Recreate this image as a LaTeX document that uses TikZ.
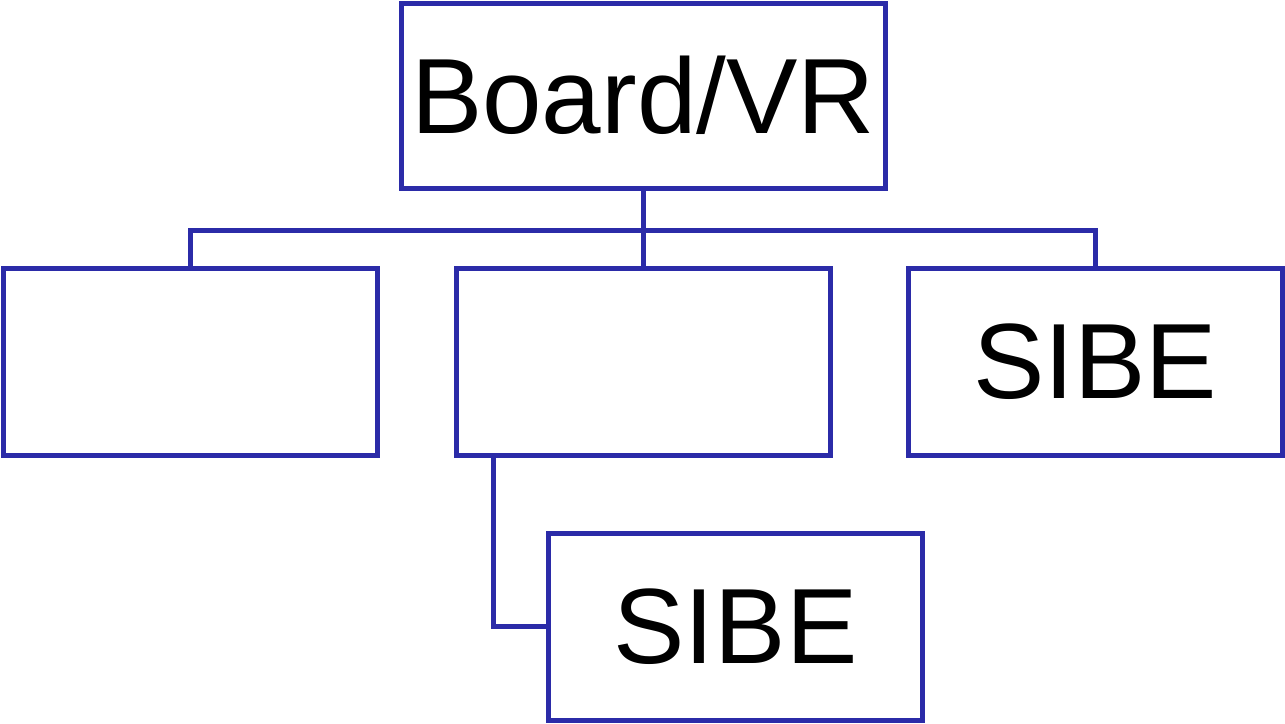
\documentclass[tikz,border=0pt]{standalone}
\usepackage{fontspec}
\setmainfont{Liberation Sans}
\usetikzlibrary{positioning}
\definecolor{boxblue}{RGB}{43,43,168}
\tikzset{
    unitbox/.style={draw=boxblue, line width=2.5pt, minimum width=187pt, minimum height=93.5pt, inner sep=0pt, font=\fontsize{53.5}{60}\selectfont},
    link/.style={draw=boxblue, line width=2.5pt}
}

\begin{document}
\begin{tikzpicture}[x=0.5pt, y=-0.5pt]
    %Frame
    \useasboundingbox (0, 0) rectangle (1285, 723);
    %Boxes
    \node[unitbox, minimum width=242pt, minimum height=92.5pt] (board) at (643, 95.5) {Board/VR};
    \node[unitbox] (left) at (190, 361.5) {};
    \node[unitbox] (middle) at (643, 361.5) {};
    \node[unitbox] (right) at (1095, 361.5) {SIBE};
    \node[unitbox] (lower) at (735.5, 626.5) {SIBE};
    %Links
    \coordinate (bus) at (643, 230);
    \draw[link] (board.south) -- (bus);
    \draw[link] (left.north) |- (bus) -| (right.north);
    \draw[link] (middle.north) -- (bus);
    \draw[link] ([xshift=-75pt]middle.south) |- (lower.west);
\end{tikzpicture}
\end{document}
